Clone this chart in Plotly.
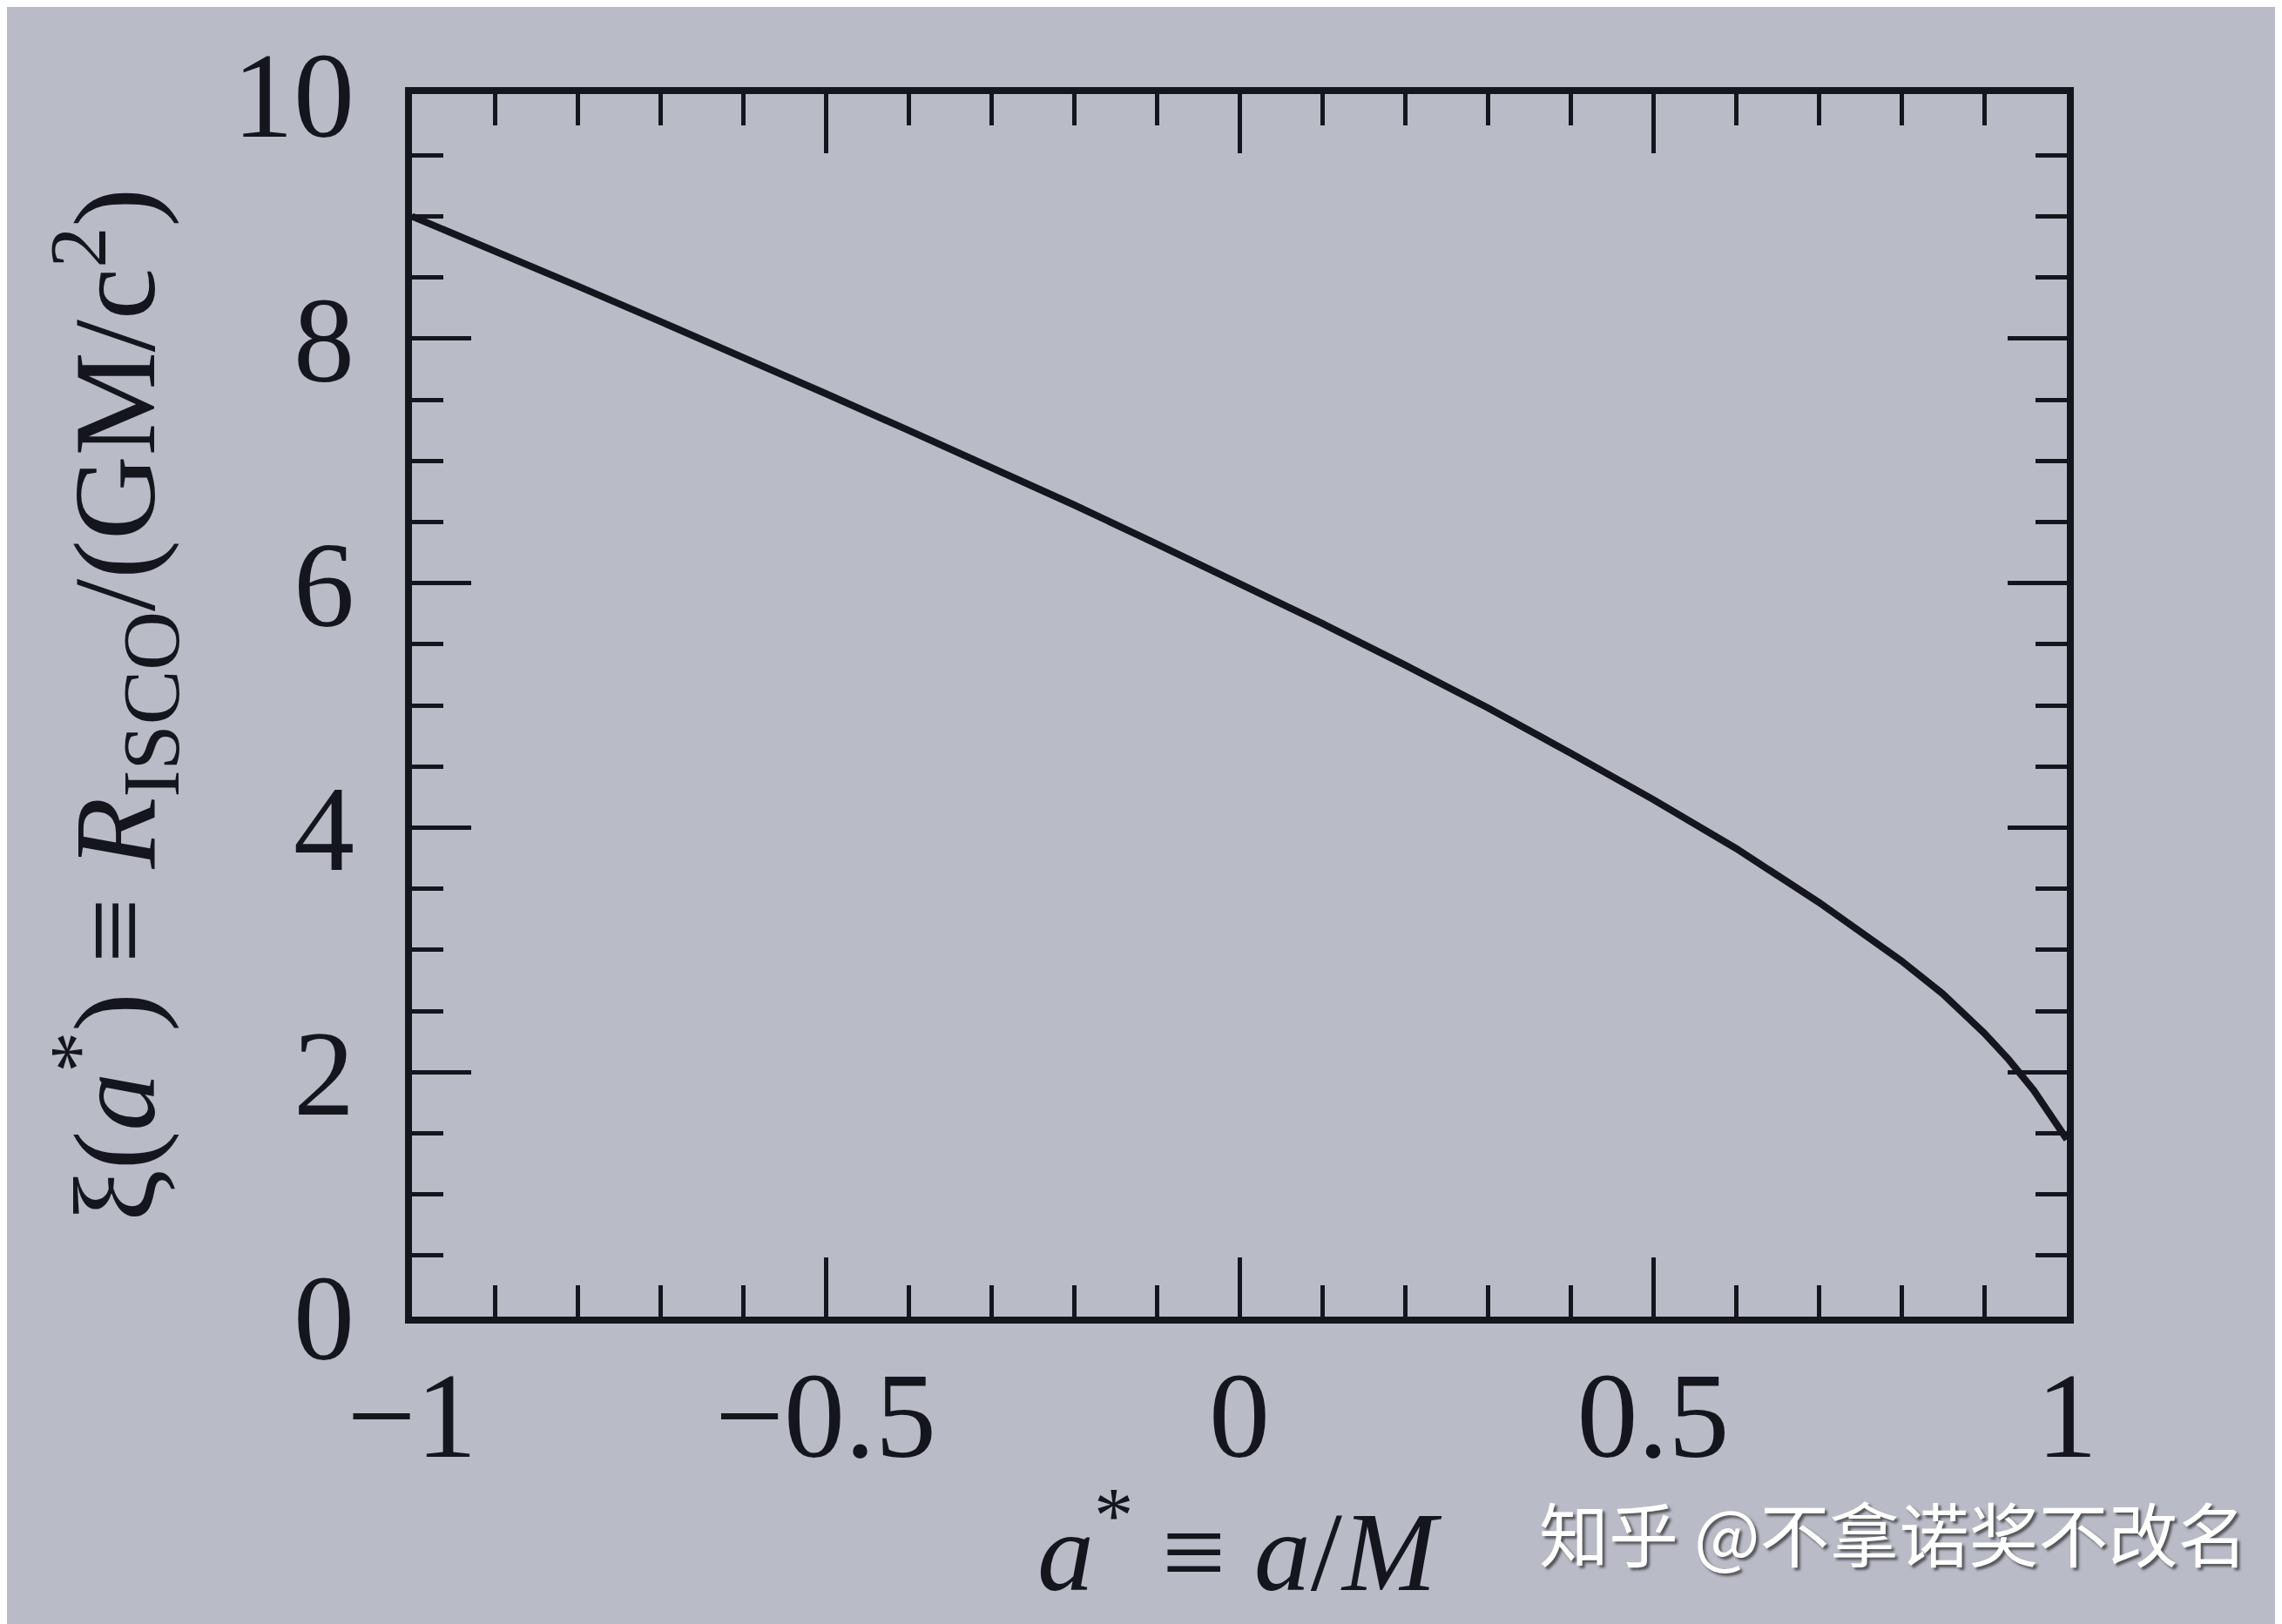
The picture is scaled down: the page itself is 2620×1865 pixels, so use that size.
import plotly.graph_objects as go

# Spin parameter a* and ISCO radius xi(a*)
spin = [-1.0, -0.9, -0.8, -0.7, -0.6, -0.5, -0.4, -0.3, -0.2, -0.1, 0.0,
        0.1, 0.2, 0.3, 0.4, 0.5, 0.6, 0.7, 0.8, 0.85, 0.9, 0.93, 0.96, 0.98, 1.0]
r_isco = [9.0, 8.72, 8.43, 8.14, 7.85, 7.55, 7.25, 6.95, 6.64, 6.32, 6.0,
          5.67, 5.33, 4.98, 4.61, 4.23, 3.83, 3.39, 2.91, 2.64, 2.32, 2.1, 1.85, 1.65, 1.45]

x_ticks = [-1, -0.5, 0, 0.5, 1]
x_ticktext = ["\u22121", "\u22120.5", "0", "0.5", "1"]
y_ticks = [0, 2, 4, 6, 8, 10]
y_ticktext = ["0", "2", "4", "6", "8", "10"]

BG = "#b9bbc7"
INK = "#15161d"
SERIF = "Liberation Serif, Times New Roman, serif"

fig = go.Figure()
fig.add_trace(go.Scatter(x=spin, y=r_isco, mode="lines",
                         line=dict(color=INK, width=8), showlegend=False))

axis_common = dict(
    showgrid=False, zeroline=False, showline=True, linecolor=INK, linewidth=8,
    mirror="allticks", ticks="inside", ticklen=68, tickwidth=5, tickcolor=INK,
    tickfont=dict(family=SERIF, size=140, color=INK),
)

fig.update_xaxes(
    **axis_common, range=[-1, 1], tickmode="array", tickvals=x_ticks, ticktext=x_ticktext,
    minor=dict(dtick=0.1, ticks="inside", ticklen=36, tickwidth=5, tickcolor=INK, showgrid=False),
    ticklabelstandoff=-15,
)
fig.update_yaxes(
    **axis_common, range=[0, 10], tickmode="array", tickvals=y_ticks, ticktext=y_ticktext,
    minor=dict(dtick=0.5, ticks="inside", ticklen=36, tickwidth=5, tickcolor=INK, showgrid=False),
    ticklabelstandoff=30,
)

fig.add_annotation(
    text="\u03be(<i>a</i><sup>*</sup>) \u2261 <i>R</i><sub>ISCO</sub>/(GM/c<sup>2</sup>)",
    xref="paper", yref="paper", x=-0.18, y=0.5, textangle=-90, showarrow=False,
    xanchor="center", yanchor="middle",
    font=dict(family=SERIF, size=134, color=INK),
)
fig.add_annotation(
    text="<i>a</i><sup>*</sup> \u2261 <i>a</i>/<i>M</i>",
    xref="paper", yref="paper", x=0.5, y=-0.185, showarrow=False,
    xanchor="center", yanchor="middle",
    font=dict(family=SERIF, size=130, color=INK),
)
fig.add_annotation(
    text="\u77e5\u4e4e @\u4e0d\u62ff\u8bfa\u5956\u4e0d\u6539\u540d",
    xref="paper", yref="paper", x=0.68, y=-0.175, showarrow=False,
    xanchor="left", yanchor="middle",
    font=dict(family="Noto Sans CJK SC", size=80, color="white",
              shadow="3px 3px 3px rgba(0,0,0,0.55)"),
)

fig.update_layout(
    width=2620, height=1865,
    margin=dict(l=465, r=255, t=100, b=361, autoexpand=False),
    paper_bgcolor=BG, plot_bgcolor=BG,
)

fig.write_html("out.html")
